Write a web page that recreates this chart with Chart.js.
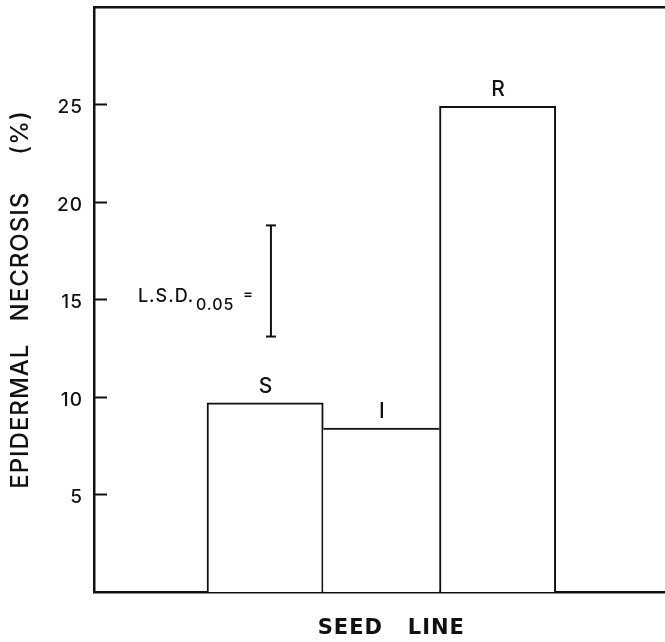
<!DOCTYPE html>
<html><head><meta charset="utf-8">
<script src="https://cdn.jsdelivr.net/npm/chart.js@4/dist/chart.umd.min.js"></script>
<style>html,body{margin:0;padding:0;overflow:hidden;background:#fff}#wrap{width:700px;height:642px}</style>
</head><body><div id="wrap"><canvas id="c" width="700" height="642"></canvas></div>
<script>
// ---- data ----
const categories = ['S', 'I', 'R'];
const categoryPositions = [1, 2, 3];
const necrosis = [9.7, 8.4, 24.9];
const yTickValues = [5, 10, 15, 20, 25];
const lsdLabel = ['L.S.D.', '0.05', '='];
const lsdX = 1.05;
const lsdLow = 13.1;
const lsdHigh = 18.8;

const INK = '#111111';
const FONT = 'Inter, "Liberation Sans", Arial, sans-serif';

const barData = categories.map((c, i) => ({x: categoryPositions[i], y: necrosis[i]}));
const lsdData = [{x: lsdX, y: lsdLow}, {x: lsdX, y: lsdHigh}];
// draw a side only where the neighbouring bar is lower (shared edges drawn once)
const barBorders = necrosis.map((v, i) => ({
  top: 2,
  left: (i === 0 || necrosis[i - 1] < v) ? 2 : 0,
  right: (i === necrosis.length - 1 || necrosis[i + 1] < v) ? 2 : 0,
  bottom: 0
}));

const spacingPlugin = {
  id: 'spacing',
  beforeDraw(chart) { chart.ctx.letterSpacing = '1px'; },
  afterDraw(chart) { chart.ctx.letterSpacing = '0px'; }
};

const labelPlugin = {
  id: 'labels',
  afterDatasetsDraw(chart) {
    const ctx = chart.ctx;
    ctx.save();
    ctx.letterSpacing = '1px';
    ctx.fillStyle = INK;
    ctx.font = '500 21px ' + FONT;
    ctx.textAlign = 'center';
    ctx.textBaseline = 'alphabetic';
    chart.getDatasetMeta(0).data.forEach((el, i) => {
      ctx.fillText(categories[i], el.x + 1, el.y - 10);
    });
    const xs = chart.scales.x, ys = chart.scales.y;
    const px = xs.getPixelForValue(lsdX);
    const py = ys.getPixelForValue((lsdLow + lsdHigh) / 2);
    ctx.textAlign = 'left';
    ctx.font = '500 18px ' + FONT;
    ctx.fillText(lsdLabel[0], px - 133, py + 21);
    ctx.font = '500 16px ' + FONT;
    ctx.fillText(lsdLabel[1], px - 75, py + 29);
    ctx.font = '500 15px ' + FONT;
    ctx.fillText(lsdLabel[2], px - 28, py + 18);
    ctx.restore();
  }
};

new Chart(document.getElementById('c'), {
  type: 'bar',
  data: {
    datasets: [
      {
        type: 'bar',
        data: barData,
        backgroundColor: '#ffffff',
        borderColor: INK,
        borderWidth: barBorders,
        borderSkipped: 'start',
        barPercentage: 1,
        categoryPercentage: 1,
        xAxisID: 'x'
      },
      {
        type: 'line',
        data: lsdData,
        borderColor: INK,
        borderWidth: 2,
        pointStyle: 'line',
        pointRadius: 5,
        pointBorderWidth: 2,
        pointBorderColor: INK,
        xAxisID: 'x'
      }
    ]
  },
  plugins: [spacingPlugin, labelPlugin],
  options: {
    responsive: false,
    animation: false,
    layout: {padding: {top: 0, right: 28, left: 0, bottom: 0}},
    plugins: {legend: {display: false}, tooltip: {enabled: false}},
    scales: {
      x: {
        type: 'linear',
        position: 'bottom',
        offset: false,
        bounds: 'data',
        min: -0.472,
        max: 4.5,
        afterBuildTicks(s) { s.ticks = categoryPositions.map(v => ({value: v})); },
        ticks: {display: false},
        grid: {display: false},
        border: {display: true, color: INK, width: 2.5},
        title: {display: true, text: '  SEED   LINE', color: INK,
          font: {family: '"DejaVu Sans", sans-serif', size: 21, weight: 'bold'},
          padding: {top: 0, bottom: 1}},
        afterFit(s) { s.height = 50; s.paddingLeft = 0; s.paddingRight = 0; }
      },
      xt: {
        type: 'linear',
        position: 'top',
        offset: false,
        min: -0.472,
        max: 4.5,
        ticks: {display: false},
        grid: {display: false},
        border: {display: true, color: INK, width: 2.5},
        afterFit(s) { s.height = 7; s.paddingLeft = 0; s.paddingRight = 0; }
      },
      y: {
        min: 0,
        max: 30,
        afterBuildTicks(s) { s.ticks = yTickValues.map(v => ({value: v})); },
        ticks: {color: INK, padding: 24, labelOffset: 3,
          font: {family: FONT, size: 19, weight: 500}},
        grid: {display: true, drawOnChartArea: false, drawTicks: true, tickLength: -13,
          tickWidth: 2, tickColor: INK},
        border: {display: true, color: INK, width: 2.5},
        title: {display: true, text: 'EPIDERMAL   NECROSIS     (%)', color: INK,
          font: {family: FONT, size: 24, weight: 500}, padding: {top: 6, bottom: 0}},
        afterFit(s) { s.width = 94; s.paddingTop = 0; s.paddingBottom = 0; }
      }
    }
  }
});
</script>
</body></html>
